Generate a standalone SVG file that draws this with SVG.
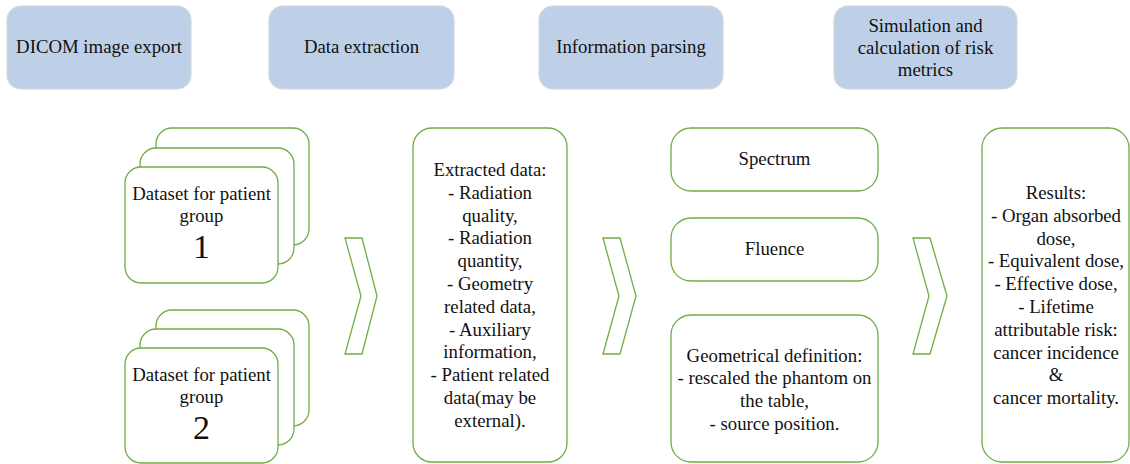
<svg xmlns="http://www.w3.org/2000/svg" width="1130" height="464" viewBox="0 0 1130 464">
<style>
.hdr{fill:#bdd0e8;stroke:#d4d8de;stroke-width:1.2}
.card{fill:#ffffff;stroke:#70ad47;stroke-width:1.3}
.chev{fill:#ffffff;stroke:#70ad47;stroke-width:1.3;stroke-linejoin:miter}
text{font-family:"Liberation Serif","Times New Roman",serif;font-size:18.8px;fill:#111;text-anchor:middle}
.big{font-size:34px}
</style>
<rect width="1130" height="464" fill="#ffffff"/>
<g id="hdr1"><rect class="hdr" x="7" y="6" width="184" height="83" rx="14"/><text x="99" y="53">DICOM image export</text></g>
<g id="hdr2"><rect class="hdr" x="269" y="6" width="185" height="83" rx="14"/><text x="361.5" y="53">Data extraction</text></g>
<g id="hdr3"><rect class="hdr" x="539" y="6" width="184" height="83" rx="14"/><text x="631" y="53">Information parsing</text></g>
<g id="hdr4"><rect class="hdr" x="834" y="6" width="183" height="83" rx="14"/><text x="925.5" y="31.5">Simulation and</text><text x="925.5" y="53.5">calculation of risk</text><text x="925.5" y="75.5">metrics</text></g>
<g id="dataset1">
<rect class="card" x="156" y="128" width="153" height="117" rx="16"/>
<rect class="card" x="140" y="148" width="154" height="116" rx="16"/>
<rect class="card" x="125" y="167" width="153" height="116" rx="16"/>
<text x="201.5" y="200">Dataset for patient</text><text x="201.5" y="221.5">group</text><text class="big" x="201.5" y="257.5">1</text>
</g>
<g id="dataset2">
<rect class="card" x="156" y="310" width="153" height="116" rx="16"/>
<rect class="card" x="140" y="329" width="154" height="116" rx="16"/>
<rect class="card" x="125" y="348" width="153" height="115" rx="16"/>
<text x="201.5" y="381">Dataset for patient</text><text x="201.5" y="402.5">group</text><text class="big" x="201.5" y="439">2</text>
</g>
<g id="extracted">
<rect class="card" x="413" y="128" width="154" height="334" rx="19"/>
<text x="490" y="176">Extracted data:</text>
<text x="490" y="198.8">- Radiation</text>
<text x="490" y="221.6">quality,</text>
<text x="490" y="244.4">- Radiation</text>
<text x="490" y="267.2">quantity,</text>
<text x="490" y="290">- Geometry</text>
<text x="490" y="312.8">related data,</text>
<text x="490" y="335.6">- Auxiliary</text>
<text x="490" y="358.4">information,</text>
<text x="490" y="381.2">- Patient related</text>
<text x="490" y="404">data(may be</text>
<text x="490" y="426.8">external).</text>
</g>
<g id="spectrum"><rect class="card" x="671" y="128" width="207" height="63" rx="20"/><text x="774.5" y="165">Spectrum</text></g>
<g id="fluence"><rect class="card" x="671" y="218" width="207" height="63" rx="20"/><text x="774.5" y="255">Fluence</text></g>
<g id="geometry"><rect class="card" x="671" y="315" width="207" height="147" rx="20"/>
<text x="774.5" y="361.7">Geometrical definition:</text>
<text x="774.5" y="384.4">- rescaled the phantom on</text>
<text x="774.5" y="407">the table,</text>
<text x="774.5" y="429.6">- source position.</text>
</g>
<g id="results"><rect class="card" x="982" y="128" width="147" height="334" rx="20"/>
<text x="1056" y="199">Results:</text>
<text x="1056" y="221.8">- Organ absorbed</text>
<text x="1056" y="244.6">dose,</text>
<text x="1056" y="267.4">- Equivalent dose,</text>
<text x="1056" y="290.2">- Effective dose,</text>
<text x="1056" y="313">- Lifetime</text>
<text x="1056" y="335.8">attributable risk:</text>
<text x="1056" y="358.6">cancer incidence</text>
<text x="1056" y="381.4">&amp;</text>
<text x="1056" y="404.2">cancer mortality.</text>
</g>
<g id="connectors">
<polygon class="chev" points="345,238 362,238 377,296 362,354 345,354 361,296"/>
<polygon class="chev" points="603,238 620,238 636,296 620,354 603,354 619,296"/>
<polygon class="chev" points="913,238 930,238 947,296 930,354 913,354 929,296"/>
</g>
</svg>
